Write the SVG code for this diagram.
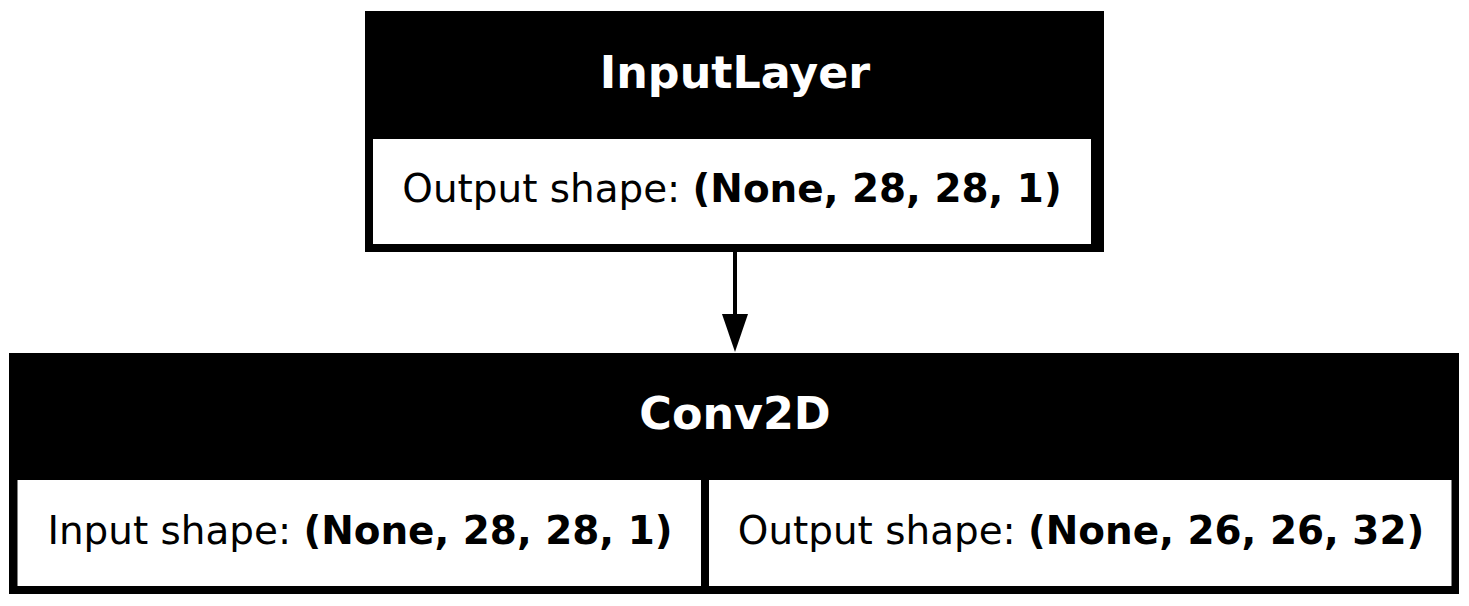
<svg xmlns="http://www.w3.org/2000/svg" width="1469" height="606" viewBox="0 0 1469 606">
<style>
.frame{fill:#000000;}
.cell{fill:#ffffff;}
.title{font-family:"DejaVu Sans",sans-serif;font-weight:bold;font-size:44.4px;fill:#ffffff;text-anchor:middle;}
.body{font-family:"DejaVu Sans",sans-serif;font-size:38.9px;fill:#000000;text-anchor:middle;}
.b{font-weight:bold;}
.edge{stroke:#000000;stroke-width:4;fill:none;}
</style>
<defs>
<marker id="arrow" markerUnits="userSpaceOnUse" markerWidth="38" markerHeight="26" refX="0" refY="13" orient="auto" viewBox="0 0 38 26">
<path d="M0,0 L38,13 L0,26 Z" fill="#000000"/>
</marker>
</defs>
<rect x="0" y="0" width="1469" height="606" fill="#ffffff"/>
<g id="edges">
<path class="edge" d="M735,252 L735,314" marker-end="url(#arrow)"/>
</g>
<g id="node-inputlayer">
<rect class="frame" x="365" y="11" width="739" height="241"/>
<rect class="cell" x="373" y="139" width="718" height="105"/>
<text class="title" x="735" y="88">InputLayer</text>
<text class="body" x="732" y="201.5">Output shape: <tspan class="b">(None, 28, 28, 1)</tspan></text>
</g>
<g id="node-conv2d">
<rect class="frame" x="9" y="353" width="1450" height="241"/>
<rect class="cell" x="17.5" y="480" width="683.5" height="106"/>
<rect class="cell" x="709" y="480" width="742.5" height="106"/>
<text class="title" x="735" y="428.5">Conv2D</text>
<text class="body" x="360" y="543.5">Input shape: <tspan class="b">(None, 28, 28, 1)</tspan></text>
<text class="body" x="1081" y="543.5">Output shape: <tspan class="b">(None, 26, 26, 32)</tspan></text>
</g>
</svg>
